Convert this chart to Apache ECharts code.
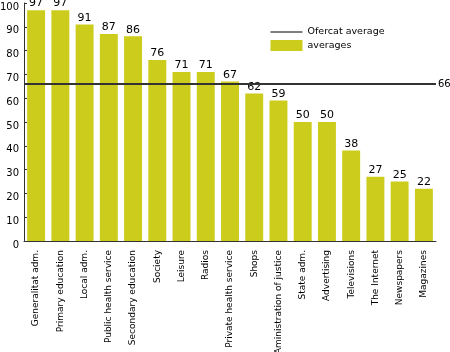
<!DOCTYPE html>
<html lang="en" style="height: 100%">
<head>
  <meta charset="utf-8" />
</head>
<body style="height: 100%; margin: 0; background: #fff">
  <div id="container" style="width: 450px; height: 352px"></div>
  <script src="https://cdn.jsdelivr.net/npm/echarts@6/dist/echarts.min.js"></script>
  <script>
    var categories = [
      "Generalitat adm.", "Primary education", "Local adm.", "Public health service",
      "Secondary education", "Society", "Leisure", "Radios", "Private health service",
      "Shops", "Aministration of justice", "State adm.", "Advertising", "Televisions",
      "The Internet", "Newspapers", "Magazines"
    ];
    var averages = [97, 97, 91, 87, 86, 76, 71, 71, 67, 62, 59, 50, 50, 38, 27, 25, 22];
    var ofercatAverage = 66;
    var yTicks = [0, 10, 20, 30, 40, 50, 60, 70, 80, 90, 100];

    var font = "DejaVu Sans";
    var chart = echarts.init(document.getElementById("container"), null, { renderer: "canvas" });

    chart.setOption({
      animation: false,
      textStyle: { fontFamily: font },
      legend: {
        orient: "vertical",
        left: 270,
        top: 27,
        padding: 0,
        itemWidth: 32,
        itemHeight: 11,
        itemGap: 3,
        textStyle: { fontFamily: font, fontSize: 9.5, color: "#000" },
        data: [
          { name: "Ofercat average", itemStyle: { opacity: 0 }, lineStyle: { width: 1, color: "#000" } },
          { name: "averages", icon: "rect" }
        ]
      },
      grid: { left: 24, right: 14, top: 3, bottom: 111, outerBoundsMode: "none" },
      xAxis: {
        type: "category",
        data: categories,
        axisLine: { lineStyle: { color: "#333", width: 1 } },
        axisTick: { inside: true, length: 4, lineStyle: { color: "#333" } },
        axisLabel: {
          rotate: 90,
          interval: 0,
          fontFamily: font,
          fontSize: 9,
          color: "#000",
          margin: 9
        }
      },
      yAxis: {
        type: "value",
        min: yTicks[0],
        max: yTicks[yTicks.length - 1],
        interval: 10,
        splitLine: { show: false },
        axisLine: { show: true, lineStyle: { color: "#333", width: 1 } },
        axisTick: { show: true, inside: true, length: 3, lineStyle: { color: "#333" } },
        axisLabel: {
          fontFamily: font,
          fontSize: 10,
          color: "#000",
          margin: 5,
          verticalAlign: "top",
          lineHeight: 8
        }
      },
      series: [
        {
          name: "Ofercat average",
          type: "line",
          data: [],
          symbol: "none",
          lineStyle: { color: "#333", width: 2 },
          itemStyle: { color: "#333" },
          markLine: {
            silent: true,
            symbol: "none",
            lineStyle: { color: "#333", width: 2, type: "solid" },
            label: {
              position: "end",
              distance: 2,
              fontFamily: font,
              fontSize: 10,
              color: "#000",
              formatter: "{c}"
            },
            data: [{ yAxis: ofercatAverage }]
          }
        },
        {
          name: "averages",
          type: "bar",
          data: averages,
          barWidth: "74%",
          itemStyle: { color: "#cccc1c" },
          label: {
            show: true,
            position: "top",
            distance: 1,
            fontFamily: font,
            fontSize: 11,
            color: "#000"
          }
        }
      ]
    });
  </script>
</body>
</html>
